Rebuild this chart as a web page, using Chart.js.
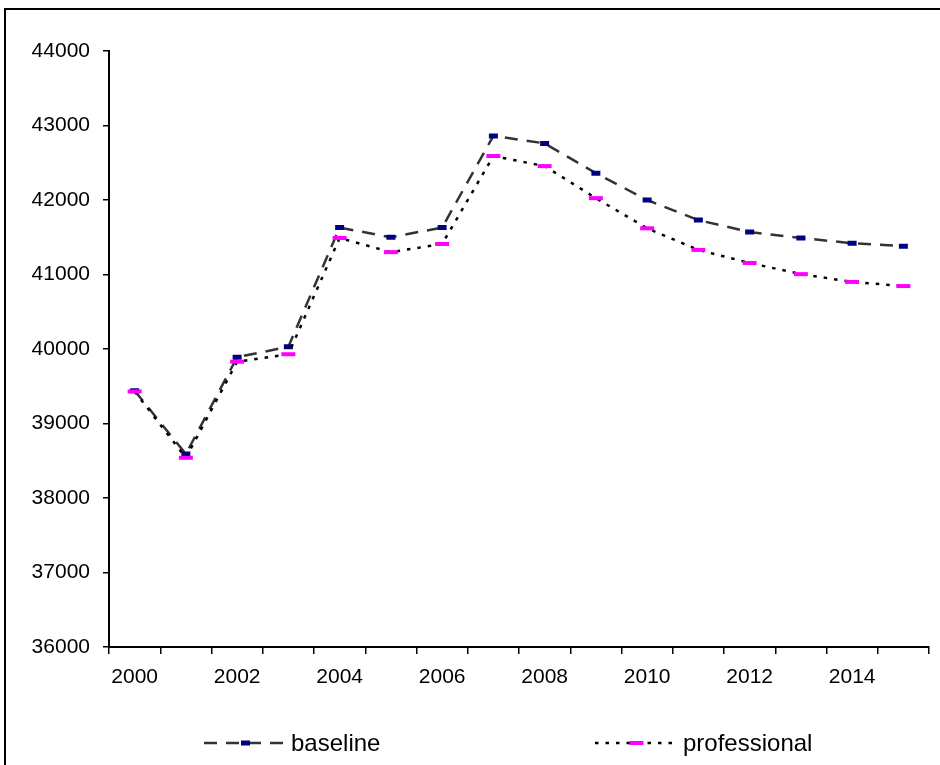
<!DOCTYPE html>
<html>
<head>
<meta charset="utf-8">
<script src="https://cdn.jsdelivr.net/npm/chart.js@4/dist/chart.umd.min.js"></script>
<style>
  html, body { margin: 0; padding: 0; background: #fff; }
  #wrap { position: relative; width: 940px; height: 765px; }
</style>
</head>
<body>
<div id="wrap"><canvas id="c"></canvas></div>
<script>
const years = ['2000','2001','2002','2003','2004','2005','2006','2007','2008','2009','2010','2011','2012','2013','2014','2015'];
const baseline = [39440, 38590, 39890, 40030, 41630, 41500, 41630, 42860, 42760, 42360, 42000, 41730, 41570, 41490, 41420, 41380];
const professional = [39430, 38540, 39830, 39930, 41490, 41300, 41410, 42590, 42455, 42025, 41620, 41330, 41155, 41005, 40900, 40845];
const yMin = 36000, yMax = 44000, yStep = 1000;
const seriesNames = ['baseline', 'professional'];

const FONT = "'Liberation Sans', Arial, sans-serif";

const framePlugin = {
  id: 'frameAndLegend',
  afterDraw(chart) {
    const ctx = chart.ctx;
    ctx.save();
    // outer frame
    ctx.strokeStyle = '#000';
    ctx.lineWidth = 2;
    ctx.setLineDash([]);
    ctx.strokeRect(5, 9, 1000, 1000);
    // legend
    const items = [
      { text: seriesNames[0], x0: 204, x1: 287, dash: [13, 9], color: '#333333', mColor: '#000080', mW: 9, mH: 5, tx: 291 },
      { text: seriesNames[1], x0: 595, x1: 678, dash: [3.5, 7], color: '#000000', mColor: '#FF00FF', mW: 14, mH: 4, tx: 683 }
    ];
    const y = 743;
    items.forEach(it => {
      ctx.beginPath();
      ctx.setLineDash(it.dash);
      ctx.strokeStyle = it.color;
      ctx.lineWidth = 2.5;
      ctx.moveTo(it.x0, y);
      ctx.lineTo(it.x1, y);
      ctx.stroke();
      ctx.setLineDash([]);
      const cx = (it.x0 + it.x1) / 2;
      ctx.fillStyle = it.mColor;
      ctx.fillRect(cx - it.mW / 2, y - it.mH / 2, it.mW, it.mH);
      ctx.fillStyle = '#000';
      ctx.font = '24px ' + FONT;
      ctx.textBaseline = 'middle';
      ctx.textAlign = 'left';
      ctx.fillText(it.text, it.tx, y + 1);
    });
    ctx.restore();
  }
};

new Chart(document.getElementById('c'), {
  type: 'line',
  data: {
    labels: years,
    datasets: [
      {
        label: seriesNames[0],
        data: baseline,
        borderColor: '#333333',
        borderWidth: 2.5,
        borderDash: [13, 9],
        pointStyle: 'line',
        pointRadius: 4.5,
        pointBorderWidth: 5,
        pointBorderColor: '#000080',
        pointBackgroundColor: '#000080',
        tension: 0,
        fill: false,
        order: 1
      },
      {
        label: seriesNames[1],
        data: professional,
        borderColor: '#000000',
        borderWidth: 2.5,
        borderDash: [3.5, 7],
        pointStyle: 'line',
        pointRadius: 7,
        pointBorderWidth: 4,
        pointBorderColor: '#FF00FF',
        pointBackgroundColor: '#FF00FF',
        tension: 0,
        fill: false,
        order: 0
      }
    ]
  },
  options: {
    responsive: true,
    maintainAspectRatio: false,
    animation: false,
    layout: { padding: { left: 0, top: 51, right: 7, bottom: 0 } },
    plugins: {
      legend: { display: false },
      tooltip: { enabled: false }
    },
    scales: {
      x: {
        type: 'category',
        offset: true,
        grid: { offset: true, drawOnChartArea: false, drawTicks: true, tickLength: 7, color: '#000', lineWidth: 1.5 },
        border: { color: '#000', width: 2 },
        ticks: {
          autoSkip: false,
          maxRotation: 0,
          padding: 11,
          color: '#000',
          font: { family: FONT, size: 21 },
          callback: function(v, i) { const l = this.getLabelForValue(v); return (parseInt(l) % 2 === 0) ? l : ''; }
        },
        afterFit(scale) { scale.height = 118; }
      },
      y: {
        min: yMin,
        max: yMax,
        grid: { drawOnChartArea: false, drawTicks: true, tickLength: 6, color: '#000', lineWidth: 1.5 },
        border: { color: '#000', width: 2 },
        ticks: {
          stepSize: yStep,
          padding: 13,
          color: '#000',
          font: { family: FONT, size: 21 },
          callback: v => String(v)
        },
        afterFit(scale) { scale.width = 109; }
      }
    }
  },
  plugins: [framePlugin]
});
</script>
</body>
</html>
